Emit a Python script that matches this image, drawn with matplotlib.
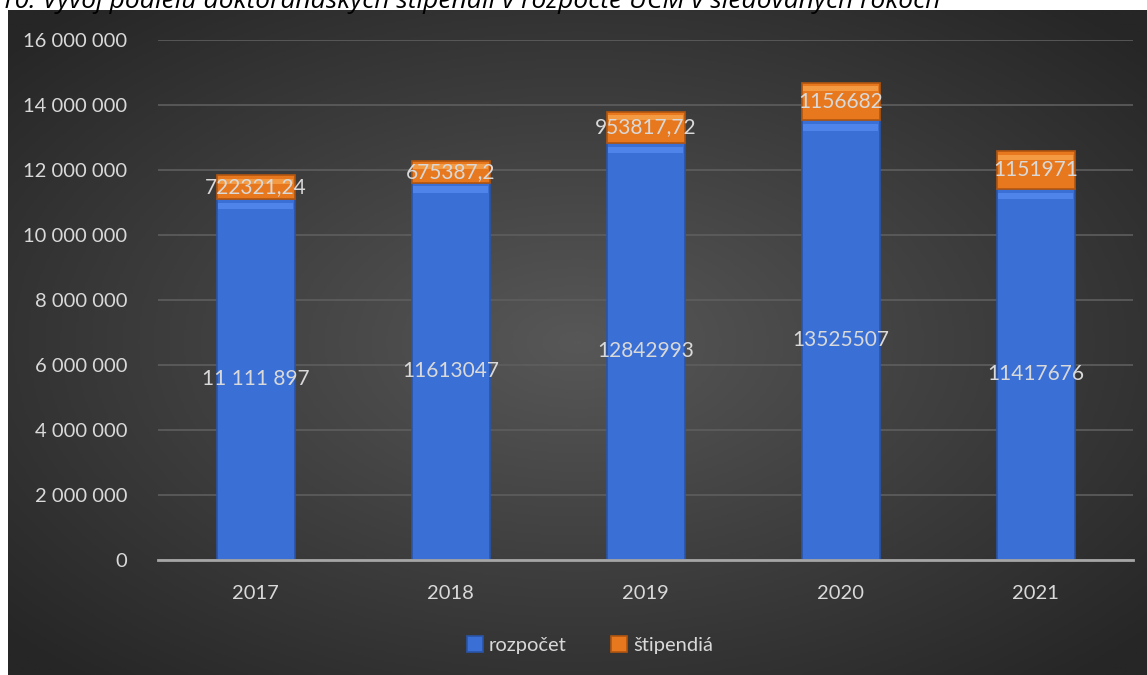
import numpy as np
import matplotlib
matplotlib.use("Agg")
import matplotlib.pyplot as plt
from matplotlib.ticker import FuncFormatter

years = ["2017", "2018", "2019", "2020", "2021"]
rozpocet = [11111897, 11613047, 12842993, 13525507, 11417676]
stipendia = [722321.24, 675387.2, 953817.72, 1156682, 1151971]
rozpocet_labels = ["11 111 897", "11613047", "12842993", "13525507", "11417676"]
stipendia_labels = ["722321,24", "675387,2", "953817,72", "1156682", "1151971"]

plt.rcParams['font.family'] = ['Lato', 'DejaVu Sans']
txt = '#d9d9d9'
blue = '#3a6fd6'
orange = '#e8781e'

fig = plt.figure(figsize=(11.47, 6.75), dpi=100)
fig.patch.set_facecolor('white')

# dark radial background panel
bg = fig.add_axes([8 / 1147, 0, 1 - 8 / 1147, 1 - 10 / 675])
yy, xx = np.mgrid[-1:1:300j, -1:1:500j]
r = np.sqrt(xx ** 2 + yy ** 2)
grad = np.clip(1 - r / 1.35, 0, 1)
bg.imshow(grad, cmap=matplotlib.colors.LinearSegmentedColormap.from_list(
    'bg', ['#262626', '#575757']), aspect='auto', extent=[0, 1, 0, 1])
bg.set_axis_off()

# title, cut at the top like in the source document
fig.text(0.0, 1 - 2 / 675,
         "10: Vývoj podielu doktorandských štipendií v rozpočte UCM v sledovaných rokoch",
         ha='left', va='center', fontsize=19, style='italic', color='black',
         family=['Open Sans', 'DejaVu Sans'])

ax = fig.add_axes([158 / 1147, (675 - 560) / 675, 975 / 1147, 520 / 675])
ax.set_facecolor('none')
x = np.arange(len(years))
w = 0.4
b1 = ax.bar(x, rozpocet, w, color=blue, edgecolor='#2a55a8', linewidth=1.2,
            label='rozpočet', zorder=3)
b2 = ax.bar(x, stipendia, w, bottom=rozpocet, color=orange, edgecolor='#b2560f',
            linewidth=1.2, label='štipendiá', zorder=3)

# bevel highlight at the top of each segment
for xi, r_, s in zip(x, rozpocet, stipendia):
    ax.bar(xi, 200000, w * 0.96, bottom=r_ - 320000, color='#4f84ea', linewidth=0, zorder=4)
    ax.bar(xi, 150000, w * 0.96, bottom=r_ + s - 250000, color='#f39a42', linewidth=0, zorder=4)

for xi, r_, s, lr, ls in zip(x, rozpocet, stipendia, rozpocet_labels, stipendia_labels):
    ax.text(xi, r_ / 2, lr, ha='center', va='center', color=txt, fontsize=15, zorder=5)
    ax.text(xi, r_ + s / 2, ls, ha='center', va='center', color=txt, fontsize=15, zorder=5)

ax.set_xlim(-0.5, 4.5)
ax.set_ylim(0, 16000000)
ax.set_yticks(range(0, 16000001, 2000000))
ax.yaxis.set_major_formatter(FuncFormatter(lambda v, p: f"{int(v):,}".replace(",", " ")))
ax.set_xticks(x)
ax.set_xticklabels(years)
ax.grid(axis='y', color='#5e5e5e', linewidth=1.2, zorder=0)
for side in ['top', 'right', 'left']:
    ax.spines[side].set_visible(False)
ax.spines['bottom'].set_color('#a6a6a6')
ax.spines['bottom'].set_linewidth(2)
ax.spines['bottom'].set_zorder(6)
ax.tick_params(axis='both', length=0, colors=txt, labelsize=14.5)
ax.tick_params(axis='y', pad=22)
ax.tick_params(axis='x', pad=18)

fig.legend(handles=[b1, b2], loc='center', bbox_to_anchor=(590 / 1147, 1 - 645 / 675),
           ncol=2, frameon=False, fontsize=14.5, labelcolor=txt, handlelength=0.8,
           handleheight=0.8, handletextpad=0.3, columnspacing=2.2)

fig.savefig('out.png', dpi=100)
